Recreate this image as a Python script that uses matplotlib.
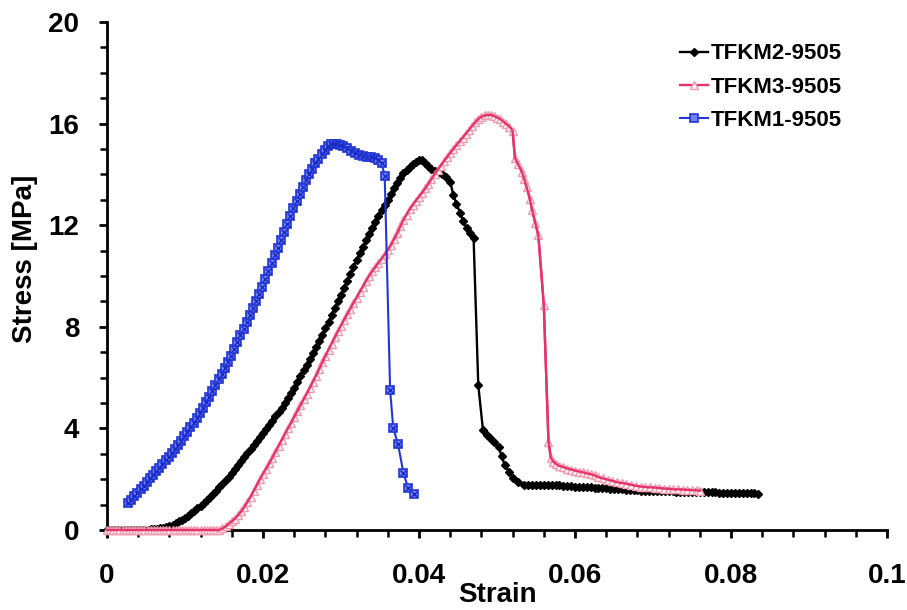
import numpy as np
import matplotlib
matplotlib.use('Agg')
import matplotlib.pyplot as plt
from matplotlib.ticker import MultipleLocator

# ---------------- data (strain in units of 1e-4, stress in MPa) ----------------
tfkm1_strain_e4 = [27, 31, 35, 39, 43, 47, 51, 55, 59, 63,
                   67, 71, 75, 79, 83, 87, 91, 95, 99, 103,
                   107, 111, 115, 119, 123, 127, 131, 135, 139, 143,
                   147, 151, 155, 159, 163, 167, 171, 175, 179, 183,
                   187, 191, 195, 199, 203, 207, 211, 215, 219, 223,
                   227, 231, 235, 239, 243, 247, 251, 255, 259, 263,
                   267, 271, 275, 279, 283,
                   287, 291, 295, 299, 303, 308, 313, 318, 323, 328,
                   333, 338, 343, 348, 352, 356, 363, 367, 373, 380, 386, 393]
tfkm1_stress = [1.05, 1.19, 1.33, 1.47, 1.61, 1.75, 1.89, 2.03, 2.17, 2.31,
                2.45, 2.59, 2.74, 2.88, 3.02, 3.18, 3.35, 3.52, 3.69, 3.87,
                4.05, 4.23, 4.41, 4.59, 4.80, 5.02, 5.24, 5.47, 5.70, 5.93,
                6.16, 6.39, 6.62, 6.86, 7.12, 7.39, 7.66, 7.93, 8.20, 8.47,
                8.74, 9.01, 9.29, 9.58, 9.88, 10.19, 10.50, 10.81, 11.12, 11.43,
                11.74, 12.05, 12.36, 12.66, 12.95, 13.23, 13.50, 13.76, 14.00, 14.22,
                14.43, 14.62, 14.80, 14.96, 15.10,
                15.18, 15.20, 15.20, 15.17, 15.10, 15.02, 14.93, 14.85, 14.77, 14.72,
                14.70, 14.68, 14.65, 14.55, 14.45, 13.95, 5.50, 4.00, 3.40, 2.25, 1.65, 1.42]

tfkm2_strain_e4 = [0, 4, 8, 12, 16, 20, 24, 28, 32, 36,
                   40, 44, 48, 52, 56, 60, 64, 68, 72, 76,
                   80, 84, 88, 92, 96, 100, 104, 108, 112, 116,
                   120, 124, 128, 132, 136, 140, 144, 148, 152, 156,
                   160, 164, 168, 172, 176, 180, 184, 188, 192, 196,
                   200, 204, 208, 212, 216, 220, 224, 228, 232, 236,
                   240, 244, 248, 252, 256, 260, 264, 268, 272, 276,
                   280, 284, 288, 292, 296, 300, 304, 308, 312, 316,
                   320, 324, 328, 332, 336, 340, 344, 348, 352, 356,
                   360, 364, 368, 372, 376, 380, 384, 388, 392, 396,
                   400, 404,
                   408, 412, 416, 420, 425, 430, 435, 440, 444, 448,
                   453, 457, 461, 466, 470, 476, 482, 487, 491, 496,
                   502, 506, 510, 515, 521, 527, 534,
                   540, 545, 550, 555, 560, 565, 570, 575, 580, 585,
                   590, 595, 600, 605, 610, 615, 620, 625, 630, 635,
                   640, 645, 650, 655, 660, 665, 670, 675, 680, 685,
                   690, 695, 700, 705, 710, 715, 720, 725, 730, 735,
                   740, 745, 750, 755, 760, 765, 770, 775, 780, 785,
                   790, 795, 800, 805, 810, 815, 820, 825, 830, 834]
tfkm2_stress = [0, 0, 0, 0, 0, 0, 0, 0, 0, 0,
                0.00, 0.00, 0.01, 0.01, 0.02, 0.03, 0.04, 0.06, 0.09, 0.12,
                0.16, 0.21, 0.27, 0.34, 0.41, 0.49, 0.57, 0.66, 0.76, 0.86,
                0.96, 1.07, 1.18, 1.30, 1.42, 1.55, 1.68, 1.82, 1.96, 2.10,
                2.25, 2.40, 2.55, 2.70, 2.86, 3.02, 3.18, 3.35, 3.51, 3.67,
                3.83, 3.99, 4.15, 4.31, 4.47, 4.63, 4.81, 5.00, 5.20, 5.40,
                5.61, 5.83, 6.06, 6.28, 6.50, 6.73, 6.96, 7.19, 7.43, 7.68,
                7.94, 8.20, 8.47, 8.74, 9.01, 9.27, 9.54, 9.81, 10.09, 10.36,
                10.63, 10.90, 11.15, 11.40, 11.65, 11.89, 12.12, 12.35, 12.58, 12.80,
                13.01, 13.22, 13.45, 13.67, 13.87, 14.04, 14.18, 14.30, 14.40, 14.48,
                14.55, 14.56,
                14.45, 14.32, 14.22, 14.15, 14.08, 14.00, 13.88, 13.70, 13.20, 12.85,
                12.47, 12.15, 11.88, 11.68, 11.48, 5.70, 3.94, 3.75, 3.62, 3.47,
                3.28, 2.90, 2.55, 2.30, 2.05, 1.88, 1.77,
                1.78, 1.78, 1.78, 1.79, 1.78, 1.77, 1.77, 1.76, 1.76, 1.73,
                1.72, 1.72, 1.71, 1.70, 1.70, 1.69, 1.68, 1.66, 1.65, 1.66,
                1.64, 1.63, 1.62, 1.60, 1.60, 1.58, 1.58, 1.57, 1.56, 1.55,
                1.55, 1.55, 1.54, 1.53, 1.53, 1.53, 1.52, 1.52, 1.51, 1.50,
                1.50, 1.50, 1.50, 1.50, 1.49, 1.49, 1.48, 1.48, 1.48, 1.47,
                1.47, 1.47, 1.47, 1.47, 1.47, 1.47, 1.47, 1.46, 1.44, 1.40]

tfkm3_strain_e4 = [0, 4, 8, 12, 16, 20, 24, 28, 32, 36,
                   40, 44, 48, 52, 56, 60, 64, 68, 72, 76,
                   80, 84, 88, 92, 96, 100, 104, 108, 112, 116,
                   120, 124, 128, 132, 136, 140, 144, 148, 152, 156,
                   160, 164, 168, 172, 176, 180, 184, 188, 192, 196,
                   200, 204, 208, 212, 216, 220, 224, 228, 232, 236,
                   240, 244, 248, 252, 256, 260, 264, 268, 272, 276,
                   280, 284, 288, 292, 296, 300, 304, 308, 312, 316,
                   320, 324, 328, 332, 336, 340, 344, 348, 352, 356,
                   360, 364, 368, 372, 376, 380, 384, 388, 392, 396,
                   400, 404, 408, 412, 416, 420, 424, 428, 432, 436,
                   440, 444, 448, 452, 456, 460, 464, 468, 472, 476,
                   480, 484, 488, 492, 496, 500, 504, 508, 512, 516,
                   520,
                   523, 527, 532, 535, 538, 542, 545, 549, 553, 560,
                   566, 569, 572, 576, 580, 585, 590, 595, 600, 605,
                   610, 615, 620, 625, 630, 636, 642, 648, 654, 660,
                   666, 672, 678, 684, 690, 696, 702, 708, 714, 720,
                   726, 732, 738, 744, 750, 756, 760]
tfkm3_stress = [0, 0, 0, 0, 0, 0, 0, 0, 0, 0,
                0, 0, 0, 0, 0, 0, 0, 0, 0, 0,
                0, 0, 0, 0, 0, 0, 0, 0, 0, 0,
                0, 0, 0, 0, 0, 0, 0, 0.06, 0.14, 0.24,
                0.34, 0.45, 0.58, 0.73, 0.90, 1.10, 1.31, 1.53, 1.76, 1.99,
                2.21, 2.42, 2.62, 2.85, 3.08, 3.31, 3.54, 3.77, 4.00, 4.22,
                4.45, 4.68, 4.91, 5.14, 5.37, 5.60, 5.84, 6.08, 6.34, 6.60,
                6.85, 7.10, 7.34, 7.58, 7.82, 8.05, 8.28, 8.50, 8.72, 8.94,
                9.15, 9.37, 9.58, 9.80, 10.00, 10.18, 10.35, 10.52, 10.68, 10.85,
                11.02, 11.22, 11.45, 11.68, 11.95, 12.20, 12.42, 12.62, 12.80, 12.97,
                13.12, 13.28, 13.45, 13.63, 13.82, 14.00, 14.18, 14.35, 14.52, 14.68,
                14.84, 15.00, 15.15, 15.30, 15.45, 15.60, 15.75, 15.90, 16.05, 16.18,
                16.27, 16.32, 16.34, 16.34, 16.30, 16.24, 16.18, 16.08, 15.98, 15.88,
                15.72,
                14.64, 14.40, 14.10, 13.80, 13.50, 13.05, 12.60, 12.10, 11.60, 8.86,
                3.48, 2.85, 2.69, 2.60, 2.52, 2.48, 2.42, 2.38, 2.34, 2.30,
                2.27, 2.23, 2.20, 2.15, 2.08, 2.03, 1.98, 1.93, 1.88, 1.85,
                1.82, 1.78, 1.74, 1.71, 1.69, 1.68, 1.67, 1.65, 1.63, 1.62,
                1.60, 1.60, 1.59, 1.58, 1.57, 1.56, 1.55]

x_tick_values = [0, 0.02, 0.04, 0.06, 0.08, 0.1]
x_tick_labels = ['0', '0.02', '0.04', '0.06', '0.08', '0.1']
y_tick_values = [0, 4, 8, 12, 16, 20]
y_tick_labels = ['0', '4', '8', '12', '16', '20']

# ---------------- figure ----------------
plt.rcParams['font.family'] = ['Liberation Sans', 'DejaVu Sans']
plt.rcParams['font.weight'] = 'bold'

fig = plt.figure(figsize=(9.07, 6.10), dpi=100)
ax = fig.add_axes([107 / 907, 1 - 530 / 610, 780 / 907, 508 / 610])

s1 = np.array(tfkm1_strain_e4) / 1e4
s2 = np.array(tfkm2_strain_e4) / 1e4
s3 = np.array(tfkm3_strain_e4) / 1e4

RED = '#e6336b'
RED_MK = '#f09aae'
BLUE = '#2236d6'

ax.plot(s2, tfkm2_stress, color='black', lw=1.7, marker='D', ms=4.2,
        mfc='black', mec='black', label='TFKM2-9505', zorder=3, clip_on=False)
ax.plot(s3, tfkm3_stress, color=RED, lw=1.7, marker='^', ms=5.8,
        mfc='#fff4f6', mec=RED_MK, mew=1.0, label='TFKM3-9505', zorder=4, clip_on=False)
ax.plot(s3, tfkm3_stress, color=RED, lw=1.7, zorder=4.5, clip_on=False)
ax.plot(s1, tfkm1_stress, color=BLUE, lw=1.5, marker='s', ms=6.0,
        mfc='#6f80f2', mec=BLUE, mew=1.2, label='TFKM1-9505', zorder=5, clip_on=False)
ax.plot(s1, tfkm1_stress, ls='none', marker='x', ms=4.0, mec='#1a2cc8', mew=1.0,
        zorder=5.5, clip_on=False)

ax.set_xlim(0, 0.1)
ax.set_ylim(0, 20)
ax.set_xticks(x_tick_values)
ax.set_xticklabels(x_tick_labels)
ax.set_yticks(y_tick_values)
ax.set_yticklabels(y_tick_labels)
ax.xaxis.set_minor_locator(MultipleLocator(0.004))
ax.yaxis.set_minor_locator(MultipleLocator(1))

for sp in ['top', 'right']:
    ax.spines[sp].set_visible(False)
for sp in ['left', 'bottom']:
    ax.spines[sp].set_linewidth(2)

ax.tick_params(which='major', direction='out', length=6, width=2, labelsize=20)
ax.tick_params(which='minor', direction='out', length=5, width=1.8)
ax.tick_params(axis='x', which='major', pad=18)
ax.tick_params(axis='y', which='major', pad=14)
for lbl in ax.get_xticklabels() + ax.get_yticklabels():
    lbl.set_fontweight('bold')

ax.set_xlabel('Strain', fontsize=20, fontweight='bold')
ax.xaxis.set_label_coords(0.5, -0.102)
ax.set_ylabel('Stress [MPa]', fontsize=20, fontweight='bold')
ax.yaxis.set_label_coords(-0.088, 0.533)

ax.legend(loc='upper left', bbox_to_anchor=(0.735, 0.958), frameon=False,
          prop={'weight': 'bold', 'size': 16}, handlelength=1.25,
          handletextpad=0.12, labelspacing=0.55, borderpad=0, borderaxespad=0)

fig.savefig('out.png', dpi=100)
